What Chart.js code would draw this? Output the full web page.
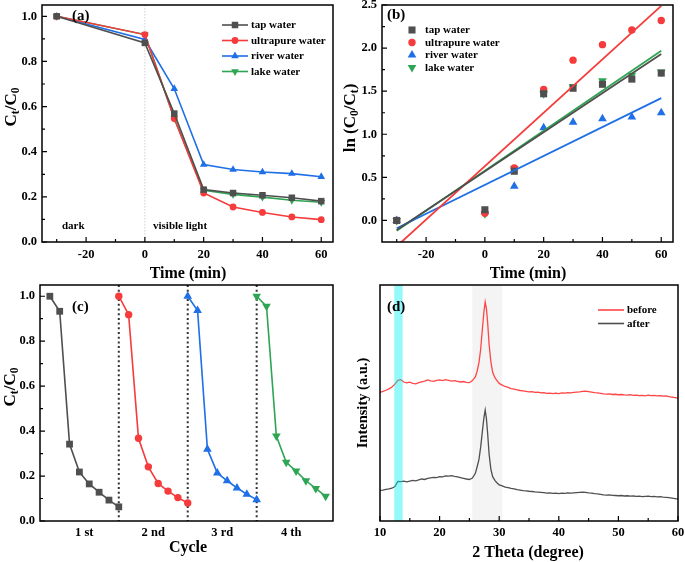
<!DOCTYPE html>
<html>
<head>
<meta charset="utf-8">
<script src="https://cdn.jsdelivr.net/npm/chart.js@4.4.1/dist/chart.umd.min.js"></script>
<style>
    html, body { margin: 0; padding: 0; background: #fff; }
    #wrap { position: relative; width: 685px; height: 562px; }
    canvas { position: absolute; left: 0; top: 0; }
</style>
</head>
<body>
<div id="wrap">
    <canvas id="chartA" width="685" height="562"></canvas>
    <canvas id="chartB" width="685" height="562"></canvas>
    <canvas id="chartC" width="685" height="562"></canvas>
    <canvas id="chartD" width="685" height="562"></canvas>
</div>
<script>
// ---- (a) degradation in different waters ----
const times = [-30, 0, 10, 20, 30, 40, 50, 60];
const tapWater = [1.0, 0.882, 0.569, 0.232, 0.217, 0.207, 0.196, 0.181];
const ultrapureWater = [1.0, 0.919, 0.547, 0.217, 0.155, 0.131, 0.111, 0.099];
const riverWater = [1.0, 0.897, 0.679, 0.343, 0.321, 0.31, 0.303, 0.289];
const lakeWater = [1.0, 0.919, 0.547, 0.229, 0.211, 0.199, 0.185, 0.176];
const timeTicks = [-20, 0, 20, 40, 60];

// ---- (b) kinetics ----
const lnTap = [0, 0.124, 0.571, 1.47, 1.534, 1.58, 1.64, 1.71];
const lnUltrapure = [0, 0.085, 0.61, 1.52, 1.86, 2.04, 2.21, 2.32];
const lnRiver = [0, 0.10, 0.396, 1.076, 1.14, 1.18, 1.20, 1.25];
const lnLake = [0, 0.078, 0.60, 1.47, 1.553, 1.62, 1.685, 1.724];
const fitTimes = [-30, 60];
const fitTap = [-0.11, 1.93];
const fitUltrapure = [-0.30, 2.49];
const fitRiver = [-0.09, 1.42];
const fitLake = [-0.12, 1.97];

// ---- (c) cycling ----
const cycleLabels = ['1 st', '2 nd', '3 rd', '4 th'];
const cycleTickPos = [3.5, 10.5, 17.5, 24.5];
const cycleSteps = [0, 1, 2, 3, 4, 5, 6, 7];
const runLength = 7;
const cycle1 = [1.0, 0.933, 0.342, 0.218, 0.165, 0.128, 0.093, 0.063];
const cycle2 = [1.0, 0.918, 0.368, 0.241, 0.167, 0.133, 0.104, 0.080];
const cycle3 = [1.0, 0.936, 0.319, 0.214, 0.179, 0.147, 0.119, 0.095];
const cycle4 = [1.0, 0.955, 0.378, 0.261, 0.222, 0.179, 0.145, 0.110];

// ---- (d) XRD before / after ----
const xrdAngle = [
    10, 10.5, 11, 11.5, 12, 12.5, 13, 13.5, 14, 14.5, 15, 15.5, 16, 16.5, 17, 17.5,
    18, 18.5, 19, 19.5, 20, 20.5, 21, 21.5, 22, 22.5, 23, 23.5, 24, 24.5, 25, 25.5, 26,
    26.3, 26.6, 26.9, 27.2, 27.45, 27.65, 27.85, 28.05, 28.3, 28.6, 28.9, 29.3, 29.7,
    30, 30.5, 31, 31.5, 32, 32.5, 33, 33.5, 34, 34.5, 35, 35.5, 36, 36.5, 37, 37.5,
    38, 38.5, 39, 39.5, 40, 40.5, 41, 41.5, 42, 42.5, 43, 43.5, 44, 44.5, 45, 45.5,
    46, 46.5, 47, 47.5, 48, 48.5, 49, 49.5, 50, 50.5, 51, 51.5, 52, 52.5, 53, 53.5,
    54, 54.5, 55, 55.5, 56, 56.5, 57, 57.5, 58, 58.5, 59, 59.5, 60
];
const xrdBefore = [
    54.5, 54.9, 55.4, 56.0, 56.8, 58.0, 59.6, 59.9, 58.9, 58.5, 58.8, 58.3, 58.1, 58.6, 59.0, 59.3,
    59.8, 59.4, 59.2, 59.6, 59.8, 59.5, 59.9, 59.6, 59.3, 59.5, 59.2, 58.9, 59.1, 58.7, 58.6, 59.5, 61.0,
    63.5, 67.0, 73.0, 82.0, 89.0, 92.8, 90.0, 84.5, 75.0, 67.5, 63.0, 60.6, 59.3,
    58.3, 57.6, 57.0, 56.6, 56.1, 55.9, 55.6, 55.3, 55.1, 54.9, 54.7, 54.8, 54.5, 54.6, 54.3, 54.4,
    54.1, 54.2, 54.0, 54.2, 54.0, 54.3, 54.2, 54.4, 54.3, 54.5, 54.6, 54.7, 54.9, 55.0, 54.8, 54.6,
    54.4, 54.3, 54.1, 53.9, 53.8, 53.9, 53.6, 53.7, 53.5, 53.6, 53.4, 53.3, 53.5, 53.2, 53.3, 53.1,
    53.2, 53.0, 53.3, 53.1, 53.2, 53.0, 53.1, 52.9, 53.0, 52.7, 52.5, 52.3, 52.1
];
const xrdAfter = [
    13.0, 13.1, 13.4, 13.6, 13.9, 14.6, 16.8, 16.7, 16.9, 16.6, 16.9, 17.2, 17.0, 17.4, 17.8, 17.6,
    18.1, 18.3, 18.5, 18.4, 18.8, 18.7, 19.1, 19.0, 19.2, 18.9, 18.7, 18.4, 18.1, 17.8, 17.6, 18.2, 20.2,
    23.0, 26.0, 31.5, 38.5, 44.0, 47.0, 43.5, 37.5, 28.5, 22.0, 18.8, 17.1, 16.0,
    15.3, 14.9, 14.4, 14.1, 13.8, 13.6, 13.3, 13.1, 12.9, 12.8, 12.6, 12.5, 12.3, 12.2, 12.1, 12.0,
    11.8, 11.9, 11.7, 11.8, 11.6, 11.8, 11.7, 11.9, 11.8, 11.9, 12.0, 12.1, 12.2, 12.1, 11.9, 11.8,
    11.6, 11.5, 11.3, 11.1, 11.0, 11.1, 10.9, 10.8, 10.7, 10.8, 10.6, 10.7, 10.5, 10.6, 10.4, 10.5,
    10.3, 10.4, 10.5, 10.3, 10.4, 10.2, 10.3, 10.1, 10.0, 9.9, 9.7, 9.5, 9.3
];

const serif = '"Liberation Serif", "DejaVu Serif", serif';
const GRAY = '#4f4f4f';
const RED = '#f53b3b';
const BLUE = '#1f6fe6';
const GREEN = '#2ea553';


function pairs(xs, ys) {
    return xs.map((x, i) => ({ x: x, y: ys[i] }));
}


function drawMarker(ctx, type, x, y, r, color) {
    ctx.fillStyle = color;
    ctx.beginPath();
    if (type === 'rect') {
        const s = r * Math.SQRT1_2;
        ctx.rect(x - s, y - s, 2 * s, 2 * s);
    } else if (type === 'circle') {
        ctx.arc(x, y, r, 0, Math.PI * 2);
    } else {
        const dir = type === 'down' ? -1 : 1;
        ctx.moveTo(x, y - dir * r);
        ctx.lineTo(x + r * 0.866, y + dir * r * 0.5);
        ctx.lineTo(x - r * 0.866, y + dir * r * 0.5);
        ctx.closePath();
    }
    ctx.fill();
}


function drawRich(ctx, parts, x, y, size, rotate) {
    ctx.save();
    ctx.translate(x, y);
    if (rotate) ctx.rotate(-Math.PI / 2);
    const fonts = parts.map(p => 'bold ' + (p[1] ? size * 0.68 : size) + 'px ' + serif);
    let total = 0;
    parts.forEach((p, i) => { ctx.font = fonts[i]; total += ctx.measureText(p[0]).width; });
    let cx = -total / 2;
    ctx.fillStyle = '#000';
    ctx.textBaseline = 'alphabetic';
    ctx.textAlign = 'left';
    parts.forEach((p, i) => {
        ctx.font = fonts[i];
        ctx.fillText(p[0], cx, size * 0.33 + (p[1] ? size * 0.22 : 0));
        cx += ctx.measureText(p[0]).width;
    });
    ctx.restore();
}


const decor = {
    chartA: {
        xMajor: [-20, 0, 20, 40, 60], xMinor: [-30, -10, 10, 30, 50],
        yMajor: [0, 0.2, 0.4, 0.6, 0.8, 1.0], yMinor: [0.1, 0.3, 0.5, 0.7, 0.9],
        vlines: [{ x: 0, color: '#c4c4c4', width: 0.8, dash: [1.5, 1.5] }],
        texts: [
            { text: '(a)', x: 72, y: 16, size: 15 },
            { text: 'dark', x: 62, y: 226, size: 11 },
            { text: 'visible light', x: 153, y: 226, size: 11 }
        ],
        titles: [
            { parts: [['Time (min)', 0]], x: 188, y: 273, size: 16 },
            { parts: [['C', 0], ['t', 1], ['/C', 0], ['0', 1]], x: 10, y: 107, size: 17, rotate: true }
        ],
        legend: {
            x: 222, y: 25, gap: 15.5, line: true, size: 11,
            items: [
                ['tap water', GRAY, 'rect', 4.6], ['ultrapure water', RED, 'circle', 3.4],
                ['river water', BLUE, 'triangle', 4.4], ['lake water', GREEN, 'down', 4.4]
            ]
        }
    },
    chartB: {
        xMajor: [-20, 0, 20, 40, 60], xMinor: [-30, -10, 10, 30, 50],
        yMajor: [0, 0.5, 1.0, 1.5, 2.0, 2.5], yMinor: [0.25, 0.75, 1.25, 1.75, 2.25],
        texts: [{ text: '(b)', x: 387, y: 15, size: 15 }],
        titles: [
            { parts: [['Time (min)', 0]], x: 528, y: 273, size: 16 },
            { parts: [['ln (C', 0], ['0', 1], ['/C', 0], ['t', 1], [')', 0]], x: 349, y: 118, size: 17, rotate: true }
        ],
        legend: {
            x: 405, y: 30, gap: 12.5, line: false, size: 11,
            items: [
                ['tap water', GRAY, 'rect', 5], ['ultrapure water', RED, 'circle', 3.7],
                ['river water', BLUE, 'triangle', 5], ['lake water', GREEN, 'down', 5]
            ]
        }
    },
    chartC: {
        yMajor: [0, 0.2, 0.4, 0.6, 0.8, 1.0], yMinor: [0.1, 0.3, 0.5, 0.7, 0.9],
        vlines: [
            { x: 7, color: '#333', width: 2, dash: [2, 2.7] },
            { x: 14, color: '#333', width: 2, dash: [2, 2.7] },
            { x: 21, color: '#333', width: 2, dash: [2, 2.7] }
        ],
        texts: [{ text: '(c)', x: 72, y: 307, size: 15 }],
        titles: [
            { parts: [['Cycle', 0]], x: 188, y: 547, size: 16 },
            { parts: [['C', 0], ['t', 1], ['/C', 0], ['0', 1]], x: 9, y: 387, size: 17, rotate: true }
        ]
    },
    chartD: {
        xMajor: [10, 20, 30, 40, 50, 60], xMinor: [15, 25, 35, 45, 55],
        bands: [
            { from: 25.5, to: 30.5, color: '#f4f4f4', top: false },
            { from: 12.4, to: 13.8, color: 'rgba(0, 240, 240, 0.42)', top: true }
        ],
        texts: [{ text: '(d)', x: 387, y: 307, size: 15 }],
        titles: [
            { parts: [['2 Theta (degree)', 0]], x: 528, y: 552, size: 16 },
            { parts: [['Intensity (a.u.)', 0]], x: 362, y: 403, size: 14.5, rotate: true }
        ],
        legend: {
            x: 598, y: 310, gap: 13.5, line: true, size: 11, noMarker: true,
            items: [['before', '#ff4545'], ['after', GRAY]]
        }
    }
};


function drawBands(chart, top) {
    const d = decor[chart.canvas.id];
    if (!d.bands) return;
    const { ctx, chartArea: a, scales } = chart;
    ctx.save();
    d.bands.filter(b => b.top === top).forEach(b => {
        const x1 = scales.x.getPixelForValue(b.from);
        const x2 = scales.x.getPixelForValue(b.to);
        ctx.fillStyle = b.color;
        ctx.fillRect(x1, a.top, x2 - x1, a.height);
    });
    ctx.restore();
}


const decorPlugin = {
    id: 'decor',
    beforeDatasetsDraw(chart) {
        const d = decor[chart.canvas.id];
        const { ctx, chartArea: a, scales } = chart;
        drawBands(chart, false);
        ctx.save();
        (d.vlines || []).forEach(v => {
            const px = scales.x.getPixelForValue(v.x);
            ctx.strokeStyle = v.color;
            ctx.lineWidth = v.width;
            ctx.setLineDash(v.dash);
            ctx.beginPath();
            ctx.moveTo(px, a.top);
            ctx.lineTo(px, a.bottom);
            ctx.stroke();
        });
        ctx.restore();
    },
    afterDatasetsDraw(chart) {
        drawBands(chart, true);
    },
    afterDraw(chart) {
        const d = decor[chart.canvas.id];
        const { ctx, chartArea: a, scales } = chart;
        ctx.save();
        // frame and inward ticks
        ctx.strokeStyle = '#000';
        ctx.lineWidth = 1.5;
        ctx.strokeRect(a.left, a.top, a.width, a.height);
        ctx.lineWidth = 1.2;
        ctx.beginPath();
        (d.xMajor || []).forEach(v => { const p = scales.x.getPixelForValue(v); ctx.moveTo(p, a.bottom); ctx.lineTo(p, a.bottom - 5); });
        (d.xMinor || []).forEach(v => { const p = scales.x.getPixelForValue(v); ctx.moveTo(p, a.bottom); ctx.lineTo(p, a.bottom - 3); });
        (d.yMajor || []).forEach(v => { const p = scales.y.getPixelForValue(v); ctx.moveTo(a.left, p); ctx.lineTo(a.left + 5, p); });
        (d.yMinor || []).forEach(v => { const p = scales.y.getPixelForValue(v); ctx.moveTo(a.left, p); ctx.lineTo(a.left + 3, p); });
        ctx.stroke();

        // free texts
        ctx.fillStyle = '#000';
        ctx.textBaseline = 'middle';
        ctx.textAlign = 'left';
        (d.texts || []).forEach(t => {
            ctx.font = 'bold ' + t.size + 'px ' + serif;
            ctx.fillText(t.text, t.x, t.y);
        });

        // legend
        const lg = d.legend;
        if (lg) {
            lg.items.forEach((it, i) => {
                const y = lg.y + i * lg.gap;
                if (lg.line) {
                    ctx.strokeStyle = it[1];
                    ctx.lineWidth = 1.6;
                    ctx.setLineDash([]);
                    ctx.beginPath();
                    ctx.moveTo(lg.x, y);
                    ctx.lineTo(lg.x + 26, y);
                    ctx.stroke();
                    if (!lg.noMarker) drawMarker(ctx, it[2], lg.x + 13, y, it[3], it[1]);
                } else {
                    drawMarker(ctx, it[2], lg.x + 7, y, it[3], it[1]);
                }
                ctx.fillStyle = '#000';
                ctx.font = 'bold ' + lg.size + 'px ' + serif;
                ctx.textBaseline = 'middle';
                ctx.textAlign = 'left';
                ctx.fillText(it[0], lg.x + (lg.line ? 29 : 20), y + 0.5);
            });
        }
        ctx.restore();

        // axis titles with subscripts
        (d.titles || []).forEach(t => drawRich(ctx, t.parts, t.x, t.y, t.size, t.rotate));
    }
};
Chart.register(decorPlugin);


function fixedSize(size) {
    return function (scale) {
        if (scale.isHorizontal()) {
            scale.height = size;
            scale.paddingLeft = 0;
            scale.paddingRight = 0;
        } else {
            scale.width = size;
            scale.paddingTop = 0;
            scale.paddingBottom = 0;
        }
    };
}


function setTicks(values) {
    return function (scale) {
        scale.ticks = values.map(v => ({ value: v }));
    };
}


function getOptions(box, xCfg, yCfg) {
    // box = plot area in page pixels
    const yWidth = 40, xHeight = 30;
    return {
        responsive: false,
        animation: false,
        events: [],
        layout: {
            padding: {
                left: box.left - yWidth,
                top: box.top,
                right: 685 - box.right,
                bottom: 562 - box.bottom - xHeight
            }
        },
        plugins: {
            legend: { display: false },
            tooltip: { enabled: false }
        },
        scales: {
            x: {
                type: 'linear',
                min: xCfg.min,
                max: xCfg.max,
                grid: { display: false, drawTicks: false },
                border: { display: false },
                ticks: {
                    display: xCfg.ticks !== null,
                    padding: xCfg.padding || 5,
                    color: '#000',
                    maxRotation: 0,
                    autoSkip: false,
                    font: { family: serif, size: 12.5, weight: 'bold' },
                    callback: xCfg.callback || (v => String(v))
                },
                afterBuildTicks: setTicks(xCfg.ticks || []),
                afterFit: fixedSize(xHeight)
            },
            y: {
                type: 'linear',
                min: yCfg.min,
                max: yCfg.max,
                grid: { display: false, drawTicks: false },
                border: { display: false },
                ticks: {
                    display: yCfg.ticks !== null,
                    padding: 5,
                    color: '#000',
                    autoSkip: false,
                    font: { family: serif, size: 12.5, weight: 'bold' },
                    callback: v => v.toFixed(1)
                },
                afterBuildTicks: setTicks(yCfg.ticks || []),
                afterFit: fixedSize(yWidth)
            }
        }
    };
}


function lineSet(label, ys, color, style, radius, rotation) {
    return {
        label: label,
        data: pairs(times, ys),
        borderColor: color,
        backgroundColor: color,
        borderWidth: 1.6,
        pointStyle: style,
        pointRotation: rotation || 0,
        pointRadius: radius,
        pointBorderWidth: 0,
        pointBackgroundColor: color,
        tension: 0
    };
}


function scatterSet(label, ys, color, style, radius, rotation) {
    return {
        label: label,
        data: pairs(times, ys),
        showLine: false,
        backgroundColor: color,
        borderColor: color,
        pointStyle: style,
        pointRotation: rotation || 0,
        pointRadius: radius,
        pointBorderWidth: 0
    };
}


function fitSet(ys, color) {
    return {
        label: '',
        data: pairs(fitTimes, ys),
        showLine: true,
        borderColor: color,
        borderWidth: 1.8,
        pointRadius: 0,
        tension: 0
    };
}


function cycleSet(index, ys, color, style, radius, rotation) {
    return {
        label: cycleLabels[index],
        data: cycleSteps.map((k, i) => ({ x: index * runLength + k, y: ys[i] })),
        borderColor: color,
        backgroundColor: color,
        borderWidth: 1.6,
        pointStyle: style,
        pointRotation: rotation || 0,
        pointRadius: radius,
        pointBorderWidth: 0,
        pointBackgroundColor: color,
        tension: 0
    };
}


function renderCharts() {
    const yTicks10 = [0, 0.2, 0.4, 0.6, 0.8, 1.0];

    new Chart(document.getElementById('chartA'), {
        type: 'line',
        data: {
            datasets: [
                lineSet('tap water', tapWater, GRAY, 'rect', 4.6),
                lineSet('ultrapure water', ultrapureWater, RED, 'circle', 3.4),
                lineSet('river water', riverWater, BLUE, 'triangle', 4.4),
                lineSet('lake water', lakeWater, GREEN, 'triangle', 4.4, 180)
            ]
        },
        options: getOptions({ left: 42, top: 5, right: 333, bottom: 242 },
            { min: -35, max: 64, ticks: timeTicks },
            { min: 0, max: 1.05, ticks: yTicks10 })
    });

    new Chart(document.getElementById('chartB'), {
        type: 'scatter',
        data: {
            datasets: [
                fitSet(fitTap, GRAY),
                fitSet(fitUltrapure, RED),
                fitSet(fitRiver, BLUE),
                fitSet(fitLake, GREEN),
                scatterSet('tap water', lnTap, GRAY, 'rect', 5),
                scatterSet('ultrapure water', lnUltrapure, RED, 'circle', 3.7),
                scatterSet('river water', lnRiver, BLUE, 'triangle', 5),
                scatterSet('lake water', lnLake, GREEN, 'triangle', 5, 180)
            ]
        },
        options: getOptions({ left: 382, top: 5, right: 673, bottom: 242 },
            { min: -35, max: 64, ticks: timeTicks },
            { min: -0.25, max: 2.5, ticks: [0, 0.5, 1.0, 1.5, 2.0, 2.5] })
    });

    new Chart(document.getElementById('chartC'), {
        type: 'line',
        data: {
            datasets: [
                cycleSet(0, cycle1, GRAY, 'rect', 4.8),
                cycleSet(1, cycle2, RED, 'circle', 3.7),
                cycleSet(2, cycle3, BLUE, 'triangle', 5),
                cycleSet(3, cycle4, GREEN, 'triangle', 5, 180)
            ]
        },
        options: getOptions({ left: 40, top: 285, right: 333, bottom: 521 },
            {
                min: -1.0, max: 28.75, ticks: cycleTickPos, padding: 4,
                callback: v => cycleLabels[cycleTickPos.indexOf(v)]
            },
            { min: 0, max: 1.05, ticks: yTicks10 })
    });

    new Chart(document.getElementById('chartD'), {
        type: 'line',
        data: {
            datasets: [
                {
                    label: 'before',
                    data: pairs(xrdAngle, xrdBefore),
                    borderColor: '#ff4545',
                    borderWidth: 1.3,
                    pointRadius: 0,
                    tension: 0
                },
                {
                    label: 'after',
                    data: pairs(xrdAngle, xrdAfter),
                    borderColor: GRAY,
                    borderWidth: 1.3,
                    pointRadius: 0,
                    tension: 0
                }
            ]
        },
        options: getOptions({ left: 380, top: 285, right: 678, bottom: 521 },
            { min: 10, max: 60, ticks: [10, 20, 30, 40, 50, 60], padding: 4 },
            { min: 0, max: 100, ticks: null })
    });
}

renderCharts();
</script>
</body>
</html>
